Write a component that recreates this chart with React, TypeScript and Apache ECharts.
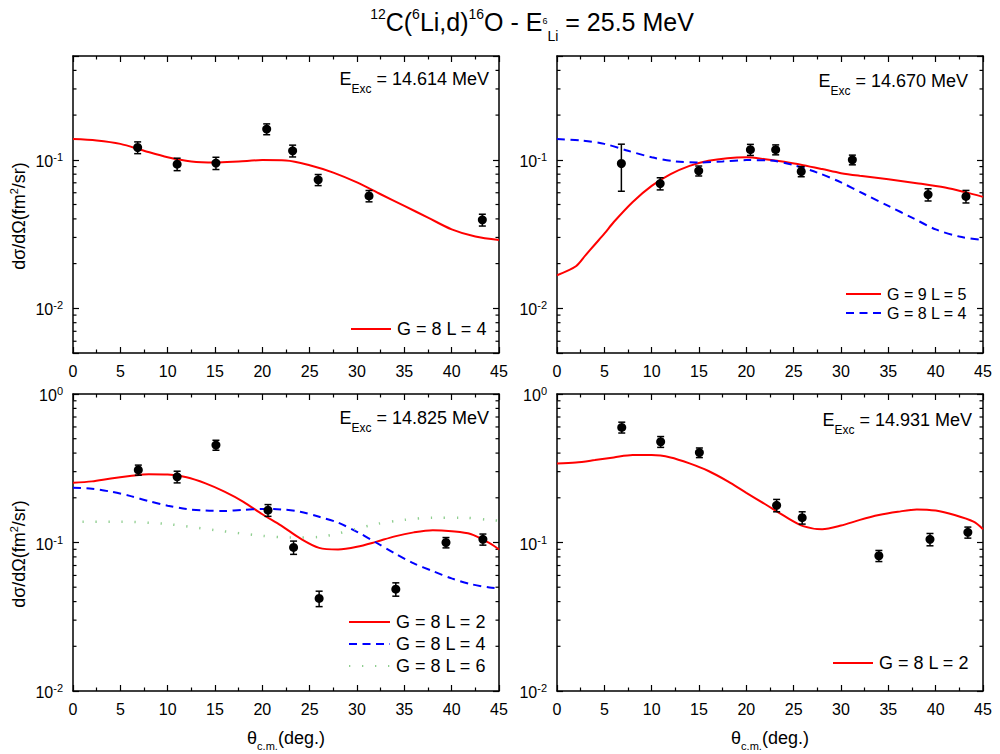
import React, { useEffect, useRef } from "react";
import * as echarts from "echarts";

const FONT = '"Liberation Sans", Arial, Helvetica, sans-serif';

// ---------- axis ticks ----------
const X_MIN = 0;
const X_MAX = 45;
const X_STEP = 5;
const Y_MINOR_TOP = [0.006, 0.007, 0.008, 0.009, 0.02, 0.03, 0.04, 0.05, 0.06, 0.07, 0.08, 0.09, 0.2, 0.3, 0.4];
const Y_MINOR_BOTTOM = [0.02, 0.03, 0.04, 0.05, 0.06, 0.07, 0.08, 0.09, 0.2, 0.3, 0.4, 0.5, 0.6, 0.7, 0.8, 0.9];

// ---------- panel 1 : E_Exc = 14.614 MeV ----------
const P1_ANGLE = [6.83, 11.0, 15.1, 20.46, 23.2, 25.9, 31.27, 43.24];
const P1_XS = [0.121, 0.0935, 0.095, 0.161, 0.115, 0.0733, 0.0571, 0.0394];
const P1_ERR = [0.011, 0.009, 0.009, 0.0135, 0.0105, 0.0063, 0.005, 0.0036];
const CURVE_ANGLE_A = [0, 2.5, 5, 7.5, 10, 12.5, 15, 17.5, 20, 22.5, 25, 27.5, 30, 32.5, 35, 37.5, 40, 42.5, 45];
const CURVE_G8L4_A = [0.138, 0.135, 0.128, 0.115, 0.104, 0.0975, 0.096, 0.0975, 0.0995, 0.099, 0.092, 0.082, 0.0704, 0.0586, 0.0489, 0.0408, 0.034, 0.0304, 0.0288];

// ---------- panel 2 : E_Exc = 14.670 MeV ----------
const P2_ANGLE = [6.8, 10.9, 14.97, 20.43, 23.1, 25.8, 31.2, 39.2, 43.2];
const P2_XS = [0.0944, 0.0692, 0.0843, 0.117, 0.117, 0.0834, 0.1, 0.0583, 0.0567];
const P2_ERR = [0.033, 0.0065, 0.0065, 0.01, 0.009, 0.0065, 0.0075, 0.0055, 0.0055];
const CURVE_ANGLE_G9 = [0, 2, 3, 4, 5, 6, 8, 10, 12, 14, 16, 18, 20, 22, 24, 26, 28, 30, 32, 35, 38, 41, 43, 45];
const CURVE_G9L5 = [0.0167, 0.0192, 0.0227, 0.0269, 0.0318, 0.0381, 0.052, 0.0667, 0.08, 0.091, 0.0985, 0.1026, 0.104, 0.101, 0.097, 0.092, 0.0866, 0.0813, 0.078, 0.074, 0.0696, 0.065, 0.0608, 0.0563];

// ---------- panel 3 : E_Exc = 14.825 MeV ----------
const P3_ANGLE = [6.9, 11.0, 15.1, 20.6, 23.3, 26.0, 34.1, 39.4, 43.3];
const P3_XS = [0.308, 0.277, 0.453, 0.165, 0.0927, 0.042, 0.0485, 0.1, 0.105];
const P3_ERR = [0.024, 0.025, 0.035, 0.015, 0.0095, 0.005, 0.005, 0.008, 0.009];
const CURVE_ANGLE_B = [0, 2, 4, 6, 8, 10, 12, 14, 16, 18, 20, 22, 24, 26, 28, 30, 32, 34, 36, 38, 40, 42, 44, 45];
const CURVE_P3_G8L2 = [0.253, 0.258, 0.27, 0.28, 0.288, 0.287, 0.275, 0.25, 0.22, 0.188, 0.155, 0.13, 0.1066, 0.092, 0.0898, 0.0935, 0.101, 0.11, 0.117, 0.121, 0.119, 0.114, 0.099, 0.0898];
const CURVE_P3_G8L4 = [0.234, 0.23, 0.22, 0.206, 0.19, 0.177, 0.168, 0.164, 0.163, 0.166, 0.168, 0.167, 0.161, 0.149, 0.136, 0.118, 0.1, 0.0845, 0.0723, 0.0642, 0.0573, 0.0525, 0.0498, 0.0491];
const CURVE_ANGLE_L6 = [1, 5, 10, 15, 20, 23, 26, 28, 30, 32, 35, 38, 41, 44, 45];
const CURVE_P3_G8L6 = [0.138, 0.138, 0.133, 0.121, 0.111, 0.108, 0.109, 0.115, 0.124, 0.133, 0.142, 0.147, 0.147, 0.142, 0.14];

// ---------- panel 4 : E_Exc = 14.931 MeV ----------
const P4_ANGLE = [6.84, 10.95, 15.04, 23.2, 25.9, 34.0, 39.4, 43.4];
const P4_XS = [0.596, 0.477, 0.403, 0.178, 0.147, 0.0814, 0.105, 0.117];
const P4_ERR = [0.05, 0.04, 0.03, 0.017, 0.014, 0.007, 0.01, 0.01];
const CURVE_P4_G8L2 = [0.341, 0.346, 0.359, 0.374, 0.388, 0.388, 0.374, 0.341, 0.303, 0.259, 0.216, 0.181, 0.151, 0.129, 0.123, 0.13, 0.142, 0.153, 0.161, 0.167, 0.164, 0.153, 0.138, 0.123];

const RED = "#ff0000";
const BLUE = "#0000ff";
const GREEN = "#8fce8f";

type Curve = { name: string; xs: number[]; ys: number[]; color: string; width: number; dash: any };
type Panel = {
  grid: { left: number; top: number; width: number; height: number };
  yMin: number;
  yMax: number;
  minors: number[];
  angle: number[];
  xs: number[];
  err: number[];
  curves: Curve[];
  label: string;
  labelX: number;
  labelY: number;
  legend: { left: number; top: number; itemWidth: number; fontSize: number; gap: number };
  xTitle: boolean;
  yTitle: boolean;
};

const PANELS: Panel[] = [
  {
    grid: { left: 73, top: 56, width: 426, height: 297 },
    yMin: 0.005, yMax: 0.5, minors: Y_MINOR_TOP,
    angle: P1_ANGLE, xs: P1_XS, err: P1_ERR,
    curves: [{ name: "a|G = 8 L = 4", xs: CURVE_ANGLE_A, ys: CURVE_G8L4_A, color: RED, width: 2, dash: "solid" }],
    label: "14.614", labelX: 489, labelY: 81,
    legend: { left: 350, top: 320, itemWidth: 40, fontSize: 18, gap: 4 },
    xTitle: false, yTitle: true,
  },
  {
    grid: { left: 557, top: 56, width: 426, height: 297 },
    yMin: 0.005, yMax: 0.5, minors: Y_MINOR_TOP,
    angle: P2_ANGLE, xs: P2_XS, err: P2_ERR,
    curves: [
      { name: "b|G = 9 L = 5", xs: CURVE_ANGLE_G9, ys: CURVE_G9L5, color: RED, width: 2, dash: "solid" },
      { name: "c|G = 8 L = 4", xs: CURVE_ANGLE_A, ys: CURVE_G8L4_A, color: BLUE, width: 2, dash: [8, 5.5] },
    ],
    label: "14.670", labelX: 968, labelY: 83,
    legend: { left: 845, top: 286, itemWidth: 35, fontSize: 16, gap: 3 },
    xTitle: false, yTitle: false,
  },
  {
    grid: { left: 73, top: 394, width: 426, height: 297 },
    yMin: 0.01, yMax: 1, minors: Y_MINOR_BOTTOM,
    angle: P3_ANGLE, xs: P3_XS, err: P3_ERR,
    curves: [
      { name: "d|G = 8 L = 2", xs: CURVE_ANGLE_B, ys: CURVE_P3_G8L2, color: RED, width: 2, dash: "solid" },
      { name: "e|G = 8 L = 4", xs: CURVE_ANGLE_B, ys: CURVE_P3_G8L4, color: BLUE, width: 2, dash: [8, 5.5] },
      { name: "f|G = 8 L = 6", xs: CURVE_ANGLE_L6, ys: CURVE_P3_G8L6, color: GREEN, width: 2.5, dash: [1.3, 11.7] },
    ],
    label: "14.825", labelX: 489, labelY: 420,
    legend: { left: 348, top: 613, itemWidth: 41, fontSize: 18, gap: 4 },
    xTitle: true, yTitle: true,
  },
  {
    grid: { left: 557, top: 394, width: 426, height: 297 },
    yMin: 0.01, yMax: 1, minors: Y_MINOR_BOTTOM,
    angle: P4_ANGLE, xs: P4_XS, err: P4_ERR,
    curves: [{ name: "g|G = 8 L = 2", xs: CURVE_ANGLE_B, ys: CURVE_P4_G8L2, color: RED, width: 2, dash: "solid" }],
    label: "14.931", labelX: 972, labelY: 421.5,
    legend: { left: 832, top: 654, itemWidth: 40, fontSize: 18, gap: 4 },
    xTitle: true, yTitle: false,
  },
];

const AXIS_LINE = { show: true, onZero: false, lineStyle: { color: "#000", width: 1.5 } };
const TICK = { show: true, inside: true, length: 6, lineStyle: { color: "#000", width: 1.2 } };

function yLabel(v: number): string {
  const e = Math.log10(v);
  const r = Math.round(e);
  if (Math.abs(e - r) > 1e-6) return "";
  return `{b|10}{s|${r}}`;
}

function buildOption() {
  const grid: any[] = [];
  const xAxis: any[] = [];
  const yAxis: any[] = [];
  const series: any[] = [];
  const legend: any[] = [];
  const graphic: any[] = [];

  PANELS.forEach((p, g) => {
    grid.push({ ...p.grid, containLabel: false });
    const xBase = {
      type: "value", gridIndex: g, min: X_MIN, max: X_MAX, interval: X_STEP,
      axisLine: AXIS_LINE, axisTick: TICK,
      minorTick: { show: true, splitNumber: 2, length: 3.5, lineStyle: { color: "#000", width: 1.2 } },
      splitLine: { show: false },
    };
    xAxis.push({
      ...xBase, position: "bottom",
      axisLabel: { show: true, color: "#000", fontSize: 16, fontFamily: FONT, margin: 10 },
    });
    xAxis.push({ ...xBase, position: "top", axisLabel: { show: false } });
    const yBase = {
      type: "log", logBase: 10, gridIndex: g, min: p.yMin, max: p.yMax,
      axisLine: AXIS_LINE, axisTick: TICK, splitLine: { show: false }, minorTick: { show: false },
    };
    yAxis.push({
      ...yBase, position: "left",
      axisLabel: {
        show: true, margin: 10, formatter: yLabel,
        rich: {
          b: { fontSize: 16, fontFamily: FONT, color: "#000", lineHeight: 17, padding: [2, 0, 0, 0], verticalAlign: "top" },
          s: { fontSize: 11, fontFamily: FONT, color: "#000", lineHeight: 11, verticalAlign: "top" },
        },
      },
    });
    yAxis.push({ ...yBase, position: "right", axisLabel: { show: false } });

    const xi = 2 * g;
    const yi = 2 * g;

    // minor log ticks on left & right frame
    series.push({
      type: "custom", xAxisIndex: xi, yAxisIndex: yi, silent: true, z: 1, clip: false,
      data: p.minors.map((v) => [X_MIN, v]),
      encode: { x: 0, y: 1 },
      renderItem: (params: any, api: any) => {
        const cs = params.coordSys;
        const y = api.coord([api.value(0), api.value(1)])[1];
        const st = { stroke: "#000", lineWidth: 1.2 };
        return {
          type: "group",
          children: [
            { type: "line", shape: { x1: cs.x, y1: y, x2: cs.x + 3.5, y2: y }, style: st },
            { type: "line", shape: { x1: cs.x + cs.width - 3.5, y1: y, x2: cs.x + cs.width, y2: y }, style: st },
          ],
        };
      },
    });

    p.curves.forEach((c) => {
      series.push({
        type: "line", name: c.name, xAxisIndex: xi, yAxisIndex: yi,
        data: c.xs.map((x, i) => [x, c.ys[i]]),
        symbol: "none", showSymbol: false, smooth: 0.3, z: 2,
        lineStyle: { color: c.color, width: c.width, type: c.dash },
        itemStyle: { color: c.color },
      });
    });

    // error bars
    series.push({
      type: "custom", xAxisIndex: xi, yAxisIndex: yi, z: 3,
      data: p.angle.map((a, i) => [a, p.xs[i] - p.err[i], p.xs[i] + p.err[i]]),
      encode: { x: 0, y: [1, 2] },
      renderItem: (_params: any, api: any) => {
        const x = api.value(0);
        const lo = api.coord([x, api.value(1)]);
        const hi = api.coord([x, api.value(2)]);
        const cap = 3.5;
        const st = { stroke: "#000", lineWidth: 1.5 };
        return {
          type: "group",
          children: [
            { type: "line", shape: { x1: lo[0], y1: lo[1], x2: hi[0], y2: hi[1] }, style: st },
            { type: "line", shape: { x1: lo[0] - cap, y1: lo[1], x2: lo[0] + cap, y2: lo[1] }, style: st },
            { type: "line", shape: { x1: hi[0] - cap, y1: hi[1], x2: hi[0] + cap, y2: hi[1] }, style: st },
          ],
        };
      },
    });

    series.push({
      type: "scatter", xAxisIndex: xi, yAxisIndex: yi, z: 4,
      data: p.angle.map((a, i) => [a, p.xs[i]]),
      symbol: "circle", symbolSize: 9, itemStyle: { color: "#000", opacity: 1 },
    });

    legend.push({
      data: p.curves.map((c) => c.name),
      left: p.legend.left, top: p.legend.top, orient: "vertical",
      itemWidth: p.legend.itemWidth, itemHeight: 12, itemGap: p.legend.gap,
      selectedMode: false, padding: 0,
      itemStyle: { opacity: 0, borderWidth: 0 },
      formatter: (n: string) => n.slice(n.indexOf("|") + 1),
      textStyle: { fontSize: p.legend.fontSize, lineHeight: p.legend.fontSize, fontFamily: FONT, color: "#000", padding: [0, 0, 0, 1] },
    });

    graphic.push({
      type: "text", x: p.labelX, y: p.labelY, silent: true,
      style: {
        text: `{e|E}{s|Exc}{e| = ${p.label} MeV}`,
        align: "right", verticalAlign: "middle",
        rich: {
          e: { fontSize: 18, fontFamily: FONT, fill: "#000", lineHeight: 22, verticalAlign: "top" },
          s: { fontSize: 12, fontFamily: FONT, fill: "#000", lineHeight: 12, padding: [13, 0, 0, 0], verticalAlign: "top" },
        },
      },
    });

    if (p.yTitle) {
      graphic.push({
        type: "text", x: 18, y: p.grid.top + 160, rotation: Math.PI / 2, silent: true,
        style: {
          text: "{a|dσ/dΩ(fm}{s|2}{a|/sr)}",
          align: "center", verticalAlign: "middle",
          rich: {
            a: { fontSize: 18, fontFamily: FONT, fill: "#000", lineHeight: 20, padding: [2, 0, 0, 0], verticalAlign: "top" },
            s: { fontSize: 11, fontFamily: FONT, fill: "#000", lineHeight: 11, verticalAlign: "top" },
          },
        },
      });
    }
    if (p.xTitle) {
      graphic.push({
        type: "text", x: p.grid.left + p.grid.width / 2, y: 739.5, silent: true,
        style: {
          text: "{a|θ}{s|c.m.}{a|(deg.)}",
          align: "center", verticalAlign: "middle",
          rich: {
            a: { fontSize: 18, fontFamily: FONT, fill: "#000", lineHeight: 22, verticalAlign: "top" },
            s: { fontSize: 11, fontFamily: FONT, fill: "#000", lineHeight: 11, padding: [12, 0, 0, 0], verticalAlign: "top" },
          },
        },
      });
    }
  });

  graphic.push({
    type: "text", x: 532, y: 21, silent: true,
    style: {
      text: "{p|12}{b|C(}{p|6}{b|Li,d)}{p|16}{b|O - E}{t|6}{u|Li}{b| = 25.5 MeV}",
      align: "center", verticalAlign: "middle",
      rich: {
        b: { fontSize: 25, fontFamily: FONT, fill: "#000", lineHeight: 29, padding: [3, 0, 0, 0], verticalAlign: "top" },
        p: { fontSize: 14, fontFamily: FONT, fill: "#000", lineHeight: 14, verticalAlign: "top" },
        t: { fontSize: 9, fontFamily: FONT, fill: "#000", lineHeight: 9, padding: [10, 0, 0, 0], verticalAlign: "top" },
        u: { fontSize: 14, fontFamily: FONT, fill: "#000", lineHeight: 14, padding: [22, 0, 0, 0], verticalAlign: "top" },
      },
    },
  });

  return {
    animation: false,
    backgroundColor: "#fff",
    textStyle: { fontFamily: FONT },
    grid, xAxis, yAxis, series, legend, graphic,
  };
}

export default function App() {
  const ref = useRef<HTMLDivElement>(null);
  useEffect(() => {
    document.body.style.margin = "0";
    if (!ref.current) return;
    const chart = echarts.init(ref.current, null, { renderer: "svg" });
    chart.setOption(buildOption() as any);
    return () => chart.dispose();
  }, []);
  return <div ref={ref} style={{ width: 1000, height: 754 }} />;
}
